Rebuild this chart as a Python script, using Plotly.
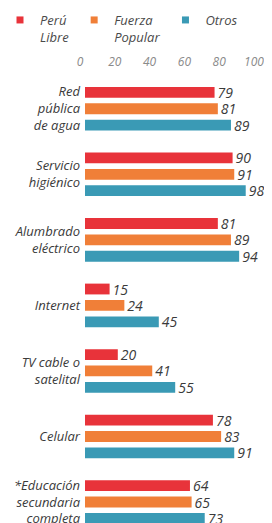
import plotly.graph_objects as go

categories = ["Red<br>pública<br>de agua", "Servicio<br>higiénico", "Alumbrado<br>eléctrico",
              "Internet", "TV cable o<br>satelital", "Celular",
              "*Educación<br>secundaria<br>completa"]
peru_libre = [79, 90, 81, 15, 20, 78, 64]
fuerza_popular = [81, 91, 89, 24, 41, 83, 65]
otros = [89, 98, 94, 45, 55, 91, 73]
series_names = ["Perú<br>Libre", "Fuerza<br>Popular", "Otros"]
colors = ["#e8333a", "#f07f38", "#3a9ab5"]
tick_vals = [0, 20, 40, 60, 80, 100]

# the page body adds an 8px margin, so the figure is drawn 8px in from the corner
OFF = 8
W, H = 272 - OFF, 523 - OFF
TOP = 76 - OFF
PH = H - TOP
FONT = "Open Sans"
fig = go.Figure()
for name, vals, col in zip(series_names, [peru_libre, fuerza_popular, otros], colors):
    fig.add_trace(go.Bar(
        y=categories, x=vals, orientation="h", name=name, showlegend=False,
        marker=dict(color=col, line=dict(width=0)),
        text=[str(v) for v in vals], textposition="outside", constraintext="none",
        textfont=dict(family=FONT, size=14, color="#3a3a3a", style="italic"),
        cliponaxis=False, hoverinfo="skip",
    ))
    fig.add_trace(go.Scatter(
        x=[None], y=[None], mode="markers", name=name,
        marker=dict(symbol="square", size=7, color=col),
    ))

# carrier trace for the top tick-label axis
fig.add_trace(go.Scatter(x=[tick_vals[0], tick_vals[-1]], y=[categories[0], categories[0]],
                         xaxis="x2", mode="markers", marker=dict(opacity=0),
                         showlegend=False, hoverinfo="skip"))

fig.update_layout(
    width=W, height=H,
    margin=dict(l=0, r=0, t=TOP, b=0, autoexpand=False),
    paper_bgcolor="white", plot_bgcolor="rgba(0,0,0,0)",
    barmode="group", bargap=0.25, bargroupgap=0.34,
    showlegend=True,
    legend=dict(orientation="h", x=-8 / W, y=1 + 71 / PH, xanchor="left", yanchor="top",
                font=dict(family=FONT, size=13, color="#4a4a4a", style="italic"),
                valign="top", itemwidth=30,
                tracegroupgap=0, bgcolor="rgba(0,0,0,0)"),
    xaxis=dict(domain=[(85 - OFF) / W, (249 - OFF) / W], range=[0, 100], showticklabels=False,
               showgrid=False, zeroline=False, showline=False, ticks=""),
    xaxis2=dict(domain=[(80 - OFF) / W, (254 - OFF) / W], range=[0, 100], side="top",
                anchor="free", position=1, tickvals=tick_vals, showgrid=False,
                zeroline=False, showline=False, ticks="", ticklabelstandoff=8,
                ticklabeloverflow="allow",
                tickfont=dict(family=FONT, size=12, color="#8a8a8a", style="italic")),
    yaxis=dict(range=[6.32, -0.5], showgrid=False, zeroline=False, showline=False,
               ticks="", ticklabelstandoff=4, automargin=False,
               tickfont=dict(family=FONT, size=13, color="#3a3a3a", style="italic")),
    font=dict(family=FONT),
)
fig.write_html("out.html")
